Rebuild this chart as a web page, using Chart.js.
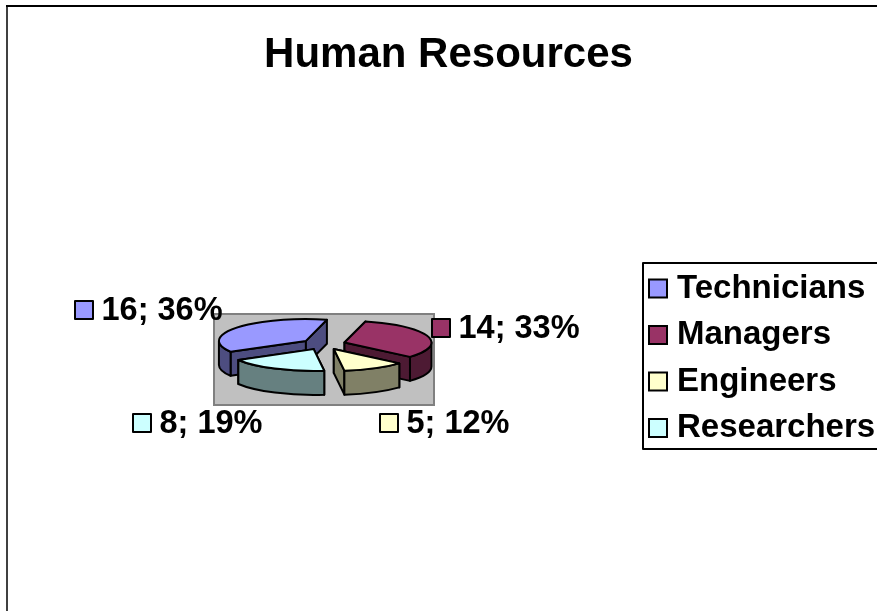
<!DOCTYPE html>
<html>
<head>
<meta charset="utf-8">
<title>Human Resources</title>
<script src="https://cdn.jsdelivr.net/npm/chart.js@4"></script>
<style>
    html, body { margin: 0; padding: 0; background: #fff; }
    #wrap { width: 877px; height: 611px; }
</style>
</head>
<body>
<div id="wrap"><canvas id="pie"></canvas></div>
<script>
const categories = ["Technicians", "Managers", "Engineers", "Researchers"];
const people = [16, 14, 5, 8];
const shares = ["36%", "33%", "12%", "19%"];

const topColors = ["#9999FF", "#993366", "#FFFFCC", "#CCFFFF"];
const wallColors = ["#4D4D80", "#4D1A33", "#808066", "#668080"];

const FONT = "Arial, 'Liberation Sans', sans-serif";
const squash = 0.25;
const depth = 24;
const explode = 22;
const shiftX = -7.5;
const liftY = 14;

// where each data label sits: swatch left edge and text centre line
const labelSpots = [
    { x: 75, y: 310 },
    { x: 432, y: 328 },
    { x: 380, y: 423 },
    { x: 133, y: 423 }
];

function slicePath(ctx, cx, cy, r, a0, a1) {
    ctx.beginPath();
    ctx.moveTo(cx, cy);
    ctx.ellipse(cx, cy, r, r * squash, 0, a0, a1);
    ctx.closePath();
}

function drawWall(ctx, cx, cy, r, a0, a1, color) {
    ctx.fillStyle = color;
    ctx.strokeStyle = "#000";
    ctx.lineWidth = 2;
    ctx.lineJoin = "round";

    // the two cut faces
    [a0, a1].forEach(a => {
        const ex = cx + Math.cos(a) * r;
        const ey = cy + Math.sin(a) * r * squash;
        ctx.beginPath();
        ctx.moveTo(cx, cy);
        ctx.lineTo(ex, ey);
        ctx.lineTo(ex, ey + depth);
        ctx.lineTo(cx, cy + depth);
        ctx.closePath();
        ctx.fill();
        ctx.stroke();
    });

    // the rim, only the part that faces the viewer
    const two = Math.PI * 2;
    const spans = [[0, Math.PI], [two, two + Math.PI]];
    spans.forEach(s => {
        const from = Math.max(a0, s[0]);
        const to = Math.min(a1, s[1]);
        if (to <= from) return;
        ctx.beginPath();
        ctx.ellipse(cx, cy, r, r * squash, 0, from, to);
        ctx.ellipse(cx, cy + depth, r, r * squash, 0, to, from, true);
        ctx.closePath();
        ctx.fill();
        ctx.stroke();
    });
}

const extrudedPie = {
    id: "extrudedPie",
    beforeDatasetDraw(chart, args) {
        const ctx = chart.ctx;
        const arcs = chart.getDatasetMeta(args.index).data;

        arcs.forEach((arc, i) => {
            const mid = (arc.startAngle + arc.endAngle) / 2;
            const cx = arc.x + shiftX + Math.cos(mid) * explode;
            const cy = arc.y - liftY + Math.sin(mid) * explode * squash;

            drawWall(ctx, cx, cy, arc.outerRadius, arc.startAngle, arc.endAngle, wallColors[i]);

            ctx.save();
            ctx.translate(cx, cy);
            ctx.scale(1, squash);
            ctx.translate(-arc.x, -arc.y);
            arc.draw(ctx);
            ctx.restore();

            slicePath(ctx, cx, cy, arc.outerRadius, arc.startAngle, arc.endAngle);
            ctx.strokeStyle = "#000";
            ctx.lineWidth = 2;
            ctx.stroke();
        });
        return false;
    }
};

const chartDecor = {
    id: "chartDecor",
    beforeDraw(chart) {
        const ctx = chart.ctx;
        // grey plot area behind the pie
        ctx.fillStyle = "#C0C0C0";
        ctx.strokeStyle = "#808080";
        ctx.lineWidth = 2;
        ctx.fillRect(214, 314, 220, 91);
        ctx.strokeRect(214, 314, 220, 91);
        // outer chart frame
        ctx.lineWidth = 2;
        ctx.strokeStyle = "#404040";
        ctx.beginPath();
        ctx.moveTo(7, 611);
        ctx.lineTo(7, 6);
        ctx.stroke();
        ctx.strokeStyle = "#000";
        ctx.beginPath();
        ctx.moveTo(6, 6);
        ctx.lineTo(877, 6);
        ctx.stroke();
    },
    afterDraw(chart) {
        const ctx = chart.ctx;
        // legend frame
        ctx.strokeStyle = "#000";
        ctx.lineWidth = 2;
        ctx.beginPath();
        ctx.moveTo(877, 263);
        ctx.lineTo(643, 263);
        ctx.lineTo(643, 449);
        ctx.lineTo(877, 449);
        ctx.stroke();

        // data labels "value; share"
        ctx.font = "bold 32.5px " + FONT;
        ctx.textBaseline = "middle";
        ctx.textAlign = "left";
        labelSpots.forEach((spot, i) => {
            ctx.fillStyle = topColors[i];
            ctx.strokeStyle = "#000";
            ctx.lineWidth = 2;
            ctx.fillRect(spot.x, spot.y - 9, 18, 18);
            ctx.strokeRect(spot.x, spot.y - 9, 18, 18);
            ctx.fillStyle = "#000";
            ctx.fillText(people[i] + "; " + shares[i], spot.x + 26.5, spot.y + 1);
        });
    }
};

const chart = new Chart(document.getElementById("pie"), {
    type: "pie",
    data: {
        labels: categories,
        datasets: [{
            data: people,
            backgroundColor: topColors,
            borderWidth: 0
        }]
    },
    options: {
        responsive: true,
        maintainAspectRatio: false,
        animation: false,
        rotation: 240,
        radius: 87,
        layout: { padding: { left: 20, right: 0, top: 0, bottom: 0 } },
        plugins: {
            tooltip: { enabled: false },
            title: {
                display: true,
                text: "Human Resources",
                color: "#000",
                font: { family: FONT, size: 42, weight: "bold" },
                padding: { top: 30, bottom: 25 }
            },
            legend: {
                position: "right",
                fullSize: false,
                maxWidth: 235,
                labels: {
                    font: { family: FONT, size: 33, weight: "bold" },
                    usePointStyle: true,
                    pointStyle: "rect",
                    boxWidth: 5,
                    boxHeight: 18,
                    padding: 13.5,
                    generateLabels(c) {
                        return categories.map((name, i) => ({
                            text: name,
                            fillStyle: topColors[i],
                            strokeStyle: "#000",
                            fontColor: "#000",
                            lineWidth: 2,
                            pointStyle: "rect",
                            index: i
                        }));
                    }
                }
            }
        }
    },
    plugins: [extrudedPie, chartDecor]
});
</script>
</body>
</html>
